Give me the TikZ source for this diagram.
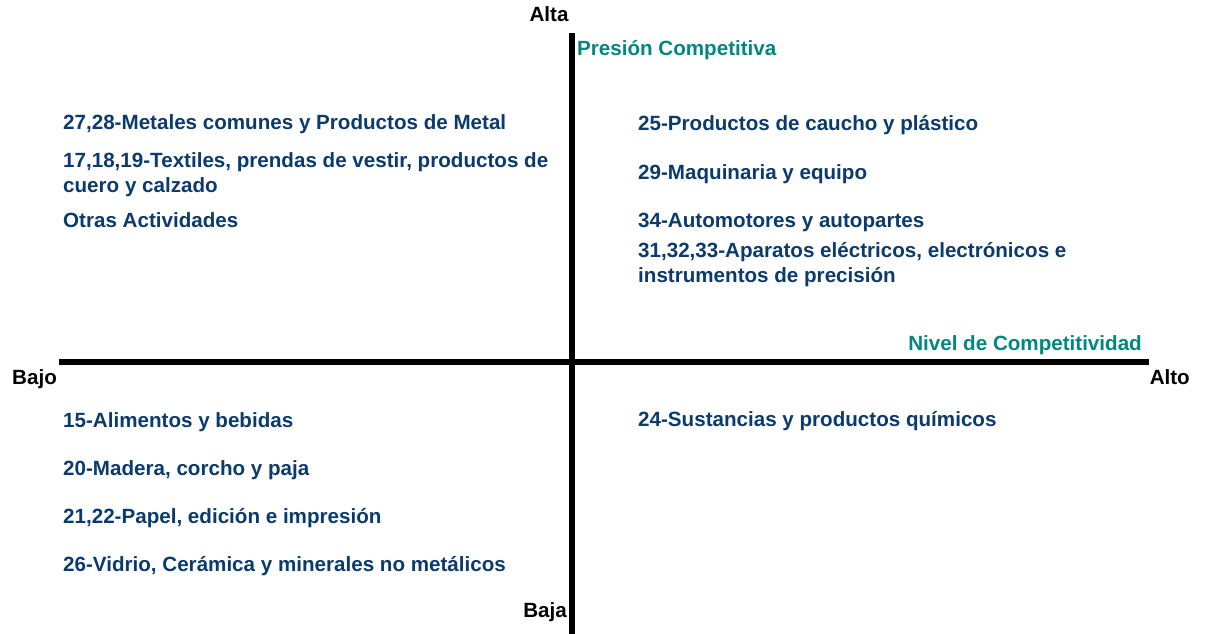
\documentclass[tikz,border=0pt]{standalone}
\usepackage{fontspec}
\setmainfont{Liberation Sans}
\usepackage{tikz}
\usetikzlibrary{positioning}
\definecolor{Navy}{HTML}{0B3A6C}
\definecolor{Teal}{HTML}{00877F}

\tikzset{
  sector/.style={anchor=base west,inner sep=0pt,text=Navy,align=left},
  axisname/.style={inner sep=0pt,text=Teal},
  extreme/.style={inner sep=0pt,text=black},
  axisline/.style={line width=5.5pt},
}

\begin{document}
\begin{tikzpicture}[x=1pt,y=-1pt,font=\fontsize{20.6}{25}\selectfont\bfseries]
\useasboundingbox (0,0) rectangle (1205,634);

% The two axes.
\coordinate (top) at (572,33);
\coordinate (bottom) at (572,634);
\coordinate (left) at (59,362);
\coordinate (right) at (1149,362);
\draw[axisline] (left) -- (right);
\draw[axisline] (top) -- (bottom);

% Axis names and ends.
\node[axisname,anchor=base west] (presion) at (577,56) {Presión Competitiva};
\node[axisname,anchor=base east] (nivel) at (1142,350) {Nivel de Competitividad};
\node[extreme,anchor=base] (alta) at (549,22) {Alta};
\node[extreme,anchor=base east] (baja) at (567,617) {Baja};
\node[extreme,anchor=base west] (bajo) at (12,384) {Bajo};
\node[extreme,anchor=base east] (alto) at (1190,384) {Alto};

% Upper left: high pressure, low competitiveness.
% (two-line nodes sit on the baseline of their last line)
\node[sector] (metales) at (63,129) {27,28-Metales comunes y Productos de Metal};
\node[sector] (textiles) at (63,192) {17,18,19-Textiles, prendas de vestir, productos de\\cuero y calzado};
\node[sector] (otras) at (63,227) {Otras Actividades};

% Upper right.
\node[sector] (caucho) at (638,130) {25-Productos de caucho y plástico};
\node[sector] (maquinaria) at (638,179) {29-Maquinaria y equipo};
\node[sector] (automotores) at (638,227) {34-Automotores y autopartes};
\node[sector] (aparatos) at (638,282) {31,32,33-Aparatos eléctricos, electrónicos e\\instrumentos de precisión};

% Lower left.
\node[sector] (alimentos) at (63,427) {15-Alimentos y bebidas};
\node[sector] (madera) at (63,475) {20-Madera, corcho y paja};
\node[sector] (papel) at (63,523) {21,22-Papel, edición e impresión};
\node[sector] (vidrio) at (63,571) {26-Vidrio, Cerámica y minerales no metálicos};

% Lower right.
\node[sector] (quimicos) at (638,426) {24-Sustancias y productos químicos};
\end{tikzpicture}
\end{document}
